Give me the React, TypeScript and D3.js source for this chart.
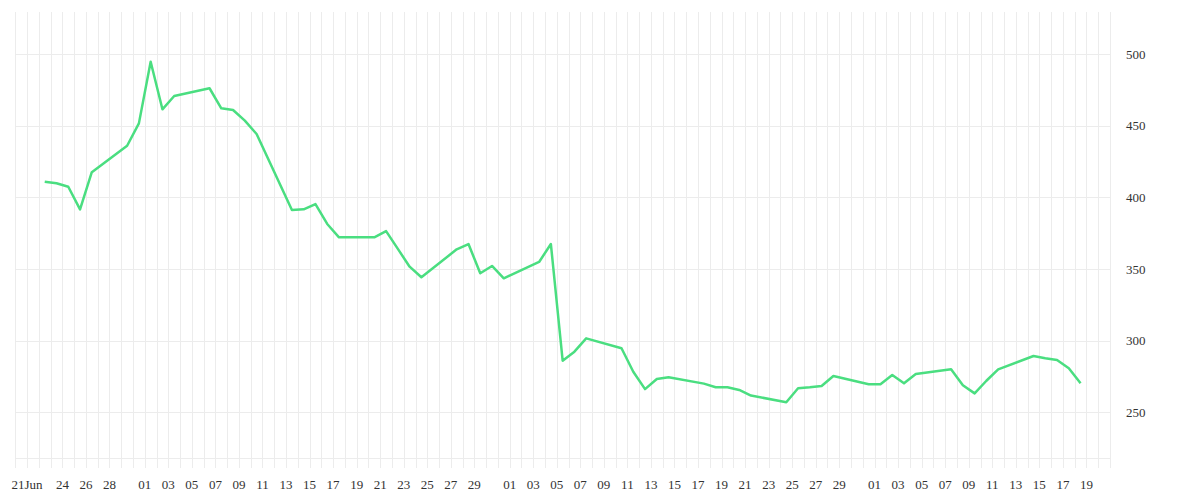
import { useEffect, useRef } from 'react'
import * as d3 from 'd3'

// trading days (2020) and closing values
const dates = [
  '2020-06-22', '2020-06-23', '2020-06-24', '2020-06-25', '2020-06-26',
  '2020-06-29', '2020-06-30', '2020-07-01', '2020-07-02', '2020-07-03',
  '2020-07-06', '2020-07-07', '2020-07-08', '2020-07-09', '2020-07-10',
  '2020-07-13', '2020-07-14', '2020-07-15', '2020-07-16', '2020-07-17',
  '2020-07-20', '2020-07-21', '2020-07-22', '2020-07-23', '2020-07-24',
  '2020-07-27', '2020-07-28', '2020-07-29', '2020-07-30', '2020-07-31',
  '2020-08-03', '2020-08-04', '2020-08-05', '2020-08-06', '2020-08-07',
  '2020-08-10', '2020-08-11', '2020-08-12', '2020-08-13', '2020-08-14',
  '2020-08-17', '2020-08-18', '2020-08-19', '2020-08-20', '2020-08-21',
  '2020-08-24', '2020-08-25', '2020-08-26', '2020-08-27', '2020-08-28',
  '2020-08-31', '2020-09-01', '2020-09-02', '2020-09-03', '2020-09-04',
  '2020-09-07', '2020-09-08', '2020-09-09', '2020-09-10', '2020-09-11',
  '2020-09-14', '2020-09-15', '2020-09-16', '2020-09-17', '2020-09-18',
]

const values = [
  410.9, 409.8, 407.4, 391.6, 417.5,
  436.0, 451.6, 494.6, 461.4, 470.7,
  476.1, 462.1, 460.9, 453.5, 444.2,
  391.2, 391.6, 395.3, 381.4, 372.1,
  372.1, 376.4, 364.0, 351.6, 344.2,
  363.7, 367.4, 347.0, 352.1, 343.5,
  354.9, 367.4, 286.0, 292.3, 301.6,
  294.7, 278.3, 266.2, 273.2, 274.5,
  270.0, 267.5, 267.5, 265.6, 261.7,
  257.0, 266.8, 267.5, 268.4, 275.3,
  269.6, 269.6, 276.0, 270.2, 276.7,
  280.0, 268.9, 263.2, 272.0, 280.0,
  289.3, 287.7, 286.5, 280.8, 270.3,
]

const xDomain = ['2020-06-20', '2020-09-21']
const yTicks = [250, 300, 350, 400, 450, 500]

const tickDates = [
  '2020-06-21', '2020-06-24', '2020-06-26', '2020-06-28',
  '2020-07-01', '2020-07-03', '2020-07-05', '2020-07-07', '2020-07-09',
  '2020-07-11', '2020-07-13', '2020-07-15', '2020-07-17', '2020-07-19',
  '2020-07-21', '2020-07-23', '2020-07-25', '2020-07-27', '2020-07-29',
  '2020-08-01', '2020-08-03', '2020-08-05', '2020-08-07', '2020-08-09',
  '2020-08-11', '2020-08-13', '2020-08-15', '2020-08-17', '2020-08-19',
  '2020-08-21', '2020-08-23', '2020-08-25', '2020-08-27', '2020-08-29',
  '2020-09-01', '2020-09-03', '2020-09-05', '2020-09-07', '2020-09-09',
  '2020-09-11', '2020-09-13', '2020-09-15', '2020-09-17', '2020-09-19',
]

const parse = d3.timeParse('%Y-%m-%d')

const App = () => {
  const ref = useRef<SVGSVGElement | null>(null)

  useEffect(() => {
    if (!ref.current) return
    const svg = d3.select(ref.current)
    svg.selectAll('*').remove()

    const left = 15.3
    const right = 1110
    const top = 12
    const bottom = 458
    const tickLen = 10

    const x = d3
      .scaleTime()
      .domain(xDomain.map((d) => parse(d) as Date))
      .range([left, right])

    const y = d3.scaleLinear().domain([250, 500]).range([412.3, 54])

    // daily vertical grid, running past the bottom edge as ticks
    const days = d3.timeDay.range(x.domain()[0], d3.timeDay.offset(x.domain()[1], 1))
    svg
      .append('g')
      .selectAll('line')
      .data(days)
      .join('line')
      .attr('x1', (d) => Math.round(x(d)) + 0.5)
      .attr('x2', (d) => Math.round(x(d)) + 0.5)
      .attr('y1', top)
      .attr('y2', bottom + tickLen)
      .attr('stroke', '#ececec')
      .attr('stroke-width', 1)

    svg
      .append('g')
      .selectAll('line')
      .data(yTicks)
      .join('line')
      .attr('x1', left)
      .attr('x2', right)
      .attr('y1', (d) => Math.round(y(d)) + 0.5)
      .attr('y2', (d) => Math.round(y(d)) + 0.5)
      .attr('stroke', '#ececec')

    svg
      .append('line')
      .attr('x1', left)
      .attr('x2', right)
      .attr('y1', bottom + 0.5)
      .attr('y2', bottom + 0.5)
      .attr('stroke', '#ececec')

    svg
      .append('g')
      .selectAll('text')
      .data(yTicks)
      .join('text')
      .attr('x', right + 16)
      .attr('y', (d) => y(d))
      .attr('dy', '0.35em')
      .attr('font-size', 13)
      .attr('fill', '#333')
      .text((d) => d)

    const fmtDay = d3.timeFormat('%d')
    const fmtFirst = d3.timeFormat('%d%b')
    svg
      .append('g')
      .selectAll('text')
      .data(tickDates.map((d) => parse(d) as Date))
      .join('text')
      .attr('x', (d) => x(d))
      .attr('y', 484)
      .attr('dy', '0.35em')
      .attr('text-anchor', 'middle')
      .attr('font-size', 13)
      .attr('fill', '#333')
      .text((d, i) => (i === 0 ? fmtFirst(d) : fmtDay(d)))

    const points = dates.map((d, i) => ({
      date: d3.timeHour.offset(parse(d) as Date, 12),
      value: values[i],
    }))

    const line = d3
      .line<{ date: Date; value: number }>()
      .x((d) => x(d.date))
      .y((d) => y(d.value))

    svg
      .append('path')
      .datum(points)
      .attr('fill', 'none')
      .attr('stroke', '#4ade80')
      .attr('stroke-width', 2.5)
      .attr('stroke-linejoin', 'round')
      .attr('d', line)
  }, [])

  return (
    <svg
      ref={ref}
      width={1200}
      height={500}
      style={{ position: 'absolute', left: 0, top: 0, background: '#fff' }}
    />
  )
}

export default App
